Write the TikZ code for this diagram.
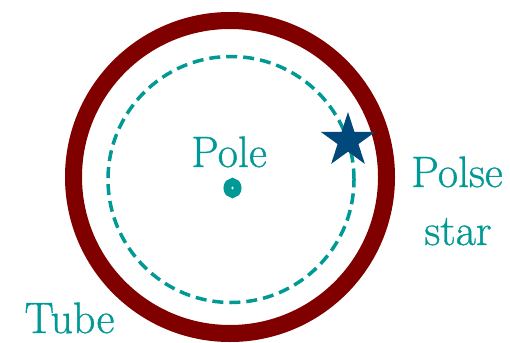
\documentclass[tikz,border=0pt]{standalone}
\usepackage{fontspec}
\newfontfamily\lblfont{Latin Modern Roman}[FakeBold=0.8]
\usetikzlibrary{shapes.geometric}
\definecolor{tubered}{RGB}{128,0,0}
\definecolor{teal2}{RGB}{0,153,150}
\definecolor{starblue}{RGB}{0,73,122}
\tikzset{
  lbl/.style={text=teal2, font=\lblfont\fontsize{44}{54}\selectfont, inner sep=0pt, anchor=base},
}
\begin{document}
\begin{tikzpicture}[x=1pt,y=-1pt]
\useasboundingbox (0,0) rectangle (510,342);
% tube ring
\draw[tubered, line width=17pt] (230,177) circle[radius=156.5pt];
% dashed orbit
\draw[teal2, line width=3.5pt, dash pattern=on 11pt off 6pt] (231,179.5) circle[radius=123pt];
% pole dot
\draw[teal2, line width=8pt] (232.5,188) ellipse[x radius=5pt, y radius=6pt];
% star
\node[star, star points=5, star point ratio=2.618, minimum size=57.4pt, inner sep=0pt, fill=starblue] (pstar) at (348,140.7) {};
% labels
\node[lbl] (pole) at (229,167) {Pole};
\node[lbl] (polse) at (457,187) {Polse};
\node[lbl] (starlbl) at (458,245) {star};
\node[lbl] (tube) at (69.5,333) {Tube};
\end{tikzpicture}
\end{document}
